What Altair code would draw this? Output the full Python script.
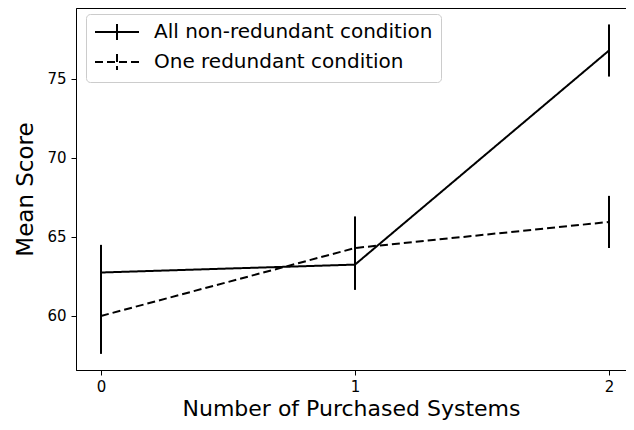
import altair as alt
import pandas as pd

x_vals = [0, 1, 2]
series_names = ["All non-redundant condition", "One redundant condition"]
all_mean = [62.75, 63.25, 76.8]
all_err = [1.75, 1.6, 1.65]
one_mean = [60.0, 64.3, 65.95]
one_err = [2.4, 2.0, 1.65]
y_ticks = [60, 65, 70, 75]

rows = []
for name, means, errs in [(series_names[0], all_mean, all_err), (series_names[1], one_mean, one_err)]:
    for xv, m, e in zip(x_vals, means, errs):
        rows.append({"x": xv, "series": name, "mean": m, "lo": m - e, "hi": m + e})
df = pd.DataFrame(rows)

xscale = alt.Scale(domain=[-0.0984, 2.0669], nice=False, zero=False)
yscale = alt.Scale(domain=[56.58, 79.49], nice=False, zero=False)

xaxis = alt.Axis(values=x_vals, format="d", title="Number of Purchased Systems")
yaxis = alt.Axis(values=y_ticks, title="Mean Score")

legend_path = "M-2.75,0H2.75M0,-1V1"

lines = alt.Chart(df).mark_line(color="black", strokeWidth=2).encode(
    x=alt.X("x:Q", scale=xscale, axis=xaxis),
    y=alt.Y("mean:Q", scale=yscale, axis=yaxis),
    strokeDash=alt.StrokeDash(
        "series:N",
        scale=alt.Scale(domain=series_names, range=[[1, 0], [8, 4]]),
        legend=alt.Legend(
            title=None,
            orient="none",
            legendX=10,
            legendY=6,
            symbolType=legend_path,
            symbolSize=256,
            symbolOffset=13,
            symbolStrokeWidth=2,
            symbolStrokeColor="black",
            symbolFillColor="transparent",
            labelFontSize=20,
            labelFont="DejaVu Sans",
            labelColor="black",
            labelOffset=27,
            rowPadding=6,
            padding=8,
            strokeColor="#cccccc",
            fillColor="white",
            cornerRadius=4,
            labelLimit=400,
        ),
    ),
    detail="series:N",
)

bars = alt.Chart(df).mark_rule(color="black", strokeWidth=2).encode(
    x=alt.X("x:Q", scale=xscale),
    y=alt.Y("lo:Q", scale=yscale),
    y2="hi:Q",
)

chart = alt.layer(lines, bars).properties(
    width=550,
    height=362,
    autosize=alt.AutoSizeParams(type="none"),
    padding={"left": 68, "top": 0, "right": 0, "bottom": 52},
).configure_view(
    stroke="black", strokeWidth=1
).configure_axis(
    grid=False,
    domainColor="black",
    tickColor="black",
    tickSize=5,
    labelColor="black",
    titleColor="black",
    labelFont="DejaVu Sans",
    titleFont="DejaVu Sans",
    labelFontSize=15,
    titleFontSize=23,
    titleFontWeight="normal",
    labelPadding=5,
).configure_axisY(
    titlePadding=9
).configure_axisX(
    titlePadding=4,
    titleFontSize=22,
    labelPadding=4
)

chart.save("out.html", embed_options={"renderer": "svg", "actions": False})
